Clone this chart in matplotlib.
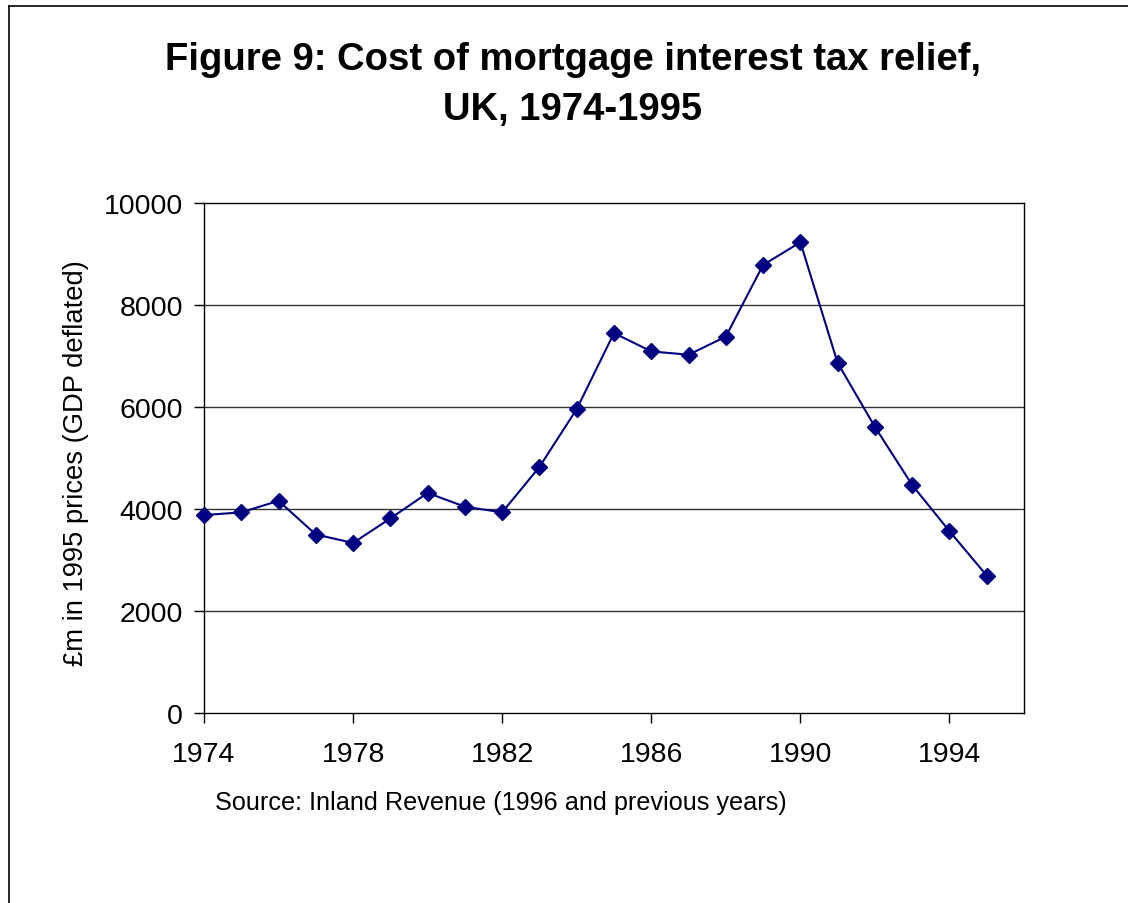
import matplotlib
matplotlib.use("Agg")
import matplotlib.pyplot as plt
from matplotlib.lines import Line2D

plt.rcParams['font.family'] = ['Liberation Sans', 'DejaVu Sans']

years = list(range(1974, 1996))
relief_cost = [3880, 3935, 4160, 3500, 3335, 3815, 4315, 4045, 3935, 4825,
               5960, 7450, 7090, 7025, 7380, 8785, 9230, 6865, 5610, 4470,
               3565, 2695]
x_ticks = [1974, 1978, 1982, 1986, 1990, 1994]
y_ticks = [0, 2000, 4000, 6000, 8000, 10000]

title_lines = ["Figure 9: Cost of mortgage interest tax relief,", "UK, 1974-1995"]
y_label = "£m in 1995 prices (GDP deflated)"
source_note = "Source: Inland Revenue (1996 and previous years)"

W, H = 1128, 904
fig = plt.figure(figsize=(W / 100, H / 100), dpi=100)
fig.patch.set_facecolor("white")

# chart-area border (left and top edges)
fig.add_artist(Line2D([8.5 / W, 8.5 / W], [0, 1 - 6.5 / H], color="black", lw=1.2))
fig.add_artist(Line2D([8.5 / W, 1], [1 - 6.5 / H, 1 - 6.5 / H], color="black", lw=1.2))

ax = fig.add_axes([204 / W, 1 - 714 / H, (1024 - 204) / W, (714 - 204) / H])
ax.plot(years, relief_cost, color="#000080", lw=1.5, marker="D", markersize=8,
        markerfacecolor="#000080", markeredgecolor="#000080", zorder=3, clip_on=False)

ax.set_xlim(1974, 1996)
ax.set_ylim(0, 10000)
ax.set_xticks(x_ticks)
ax.set_yticks(y_ticks)
ax.set_xticklabels([str(t) for t in x_ticks], fontsize=20.5)
ax.set_yticklabels([str(t) for t in y_ticks], fontsize=20.5)
ax.tick_params(axis="both", direction="out", length=7, width=1, color="black")
ax.tick_params(axis="y", pad=8)
ax.tick_params(axis="x", pad=13.5)
for s in ax.spines.values():
    s.set_color("black")
    s.set_linewidth(1.0)
for gy in y_ticks[1:-1]:
    ax.axhline(gy, color="#333333", lw=1.0, zorder=1)

fig.text(76 / W, 1 - 463 / H, y_label, rotation=90, ha="center", va="center", fontsize=19.7)
fig.text(573 / W, 1 - 70 / H, title_lines[0], ha="center", va="baseline",
         fontsize=27.5, fontweight="bold")
fig.text(573 / W, 1 - 120 / H, title_lines[1], ha="center", va="baseline",
         fontsize=27.5, fontweight="bold")
fig.text(215 / W, 1 - 803 / H, source_note, ha="left", va="center", fontsize=18.2)

fig.savefig("out.png", dpi=100)
